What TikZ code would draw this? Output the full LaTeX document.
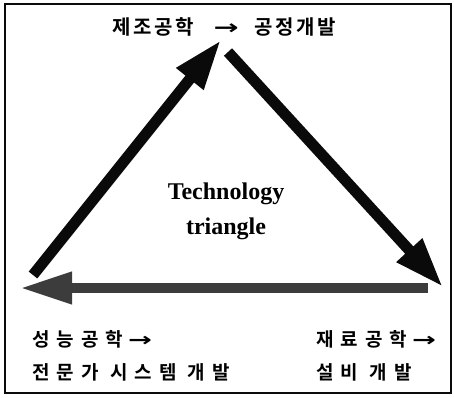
\documentclass[tikz,border=0pt]{standalone}
\usepackage{fontspec}
\usepackage{graphicx}
\setmainfont{Liberation Serif}
\newfontfamily\krfont[LetterSpace=13]{Noto Sans CJK KR Bold}
\newfontfamily\krwide[LetterSpace=37]{Noto Sans CJK KR Bold}
\newfontfamily\symfont{DejaVu Sans Bold}
\usetikzlibrary{arrows.meta}
\definecolor{mydark}{RGB}{10,10,10}
\definecolor{mygrey}{RGB}{60,60,60}
\newcommand{\toarrow}{\scalebox{1.5}[1]{\symfont →}}
\tikzset{
  krlabel/.style={font=\krfont\fontsize{20}{24}\selectfont, inner sep=0pt, anchor=west},
  krbottom/.style={font=\krwide\fontsize{19}{23}\selectfont, inner sep=0pt, anchor=west},
  bigarrow/.style={-{Triangle[length=50pt,width=32pt]}, line width=11pt, color=mydark},
  greyarrow/.style={-{Triangle[length=52pt,width=30pt]}, line width=10pt, color=mygrey},
  frame/.style={line width=1.6pt, color=mydark}
}

\begin{document}
\begin{tikzpicture}[x=1pt, y=-1pt]
  \useasboundingbox (0,0) rectangle (454,397);
  \draw[frame] (5,4) rectangle (451,393);
  % corners of the triangle
  \coordinate (left) at (33,275);
  \coordinate (apex) at (221,40);
  \coordinate (top) at (228,52);
  \coordinate (right) at (443,287);
  \coordinate (rtail) at (428,288);
  \coordinate (ltip) at (20,288);
  \draw[bigarrow] (left) -- (apex);
  \draw[bigarrow] (top) -- (right);
  \draw[greyarrow] (rtail) -- (ltip);
  % labels
  \node[krlabel] (manuf) at (112,27) {제조공학\hspace{20pt}\toarrow\hspace{16pt}공정개발};
  \node[font=\bfseries\fontsize{24}{35}\selectfont, align=center] (title) at (226,211) {Technology\\triangle};
  \node[krbottom] (perf) at (32,339) {성능공학\hspace{5pt}\toarrow};
  \node[krbottom] (expert) at (32,372) {전문가 시스템 개발};
  \node[krbottom] (mater) at (316,339) {재료공학\hspace{5pt}\toarrow};
  \node[krbottom] (equip) at (316,372) {설비 개발};
\end{tikzpicture}
\end{document}
